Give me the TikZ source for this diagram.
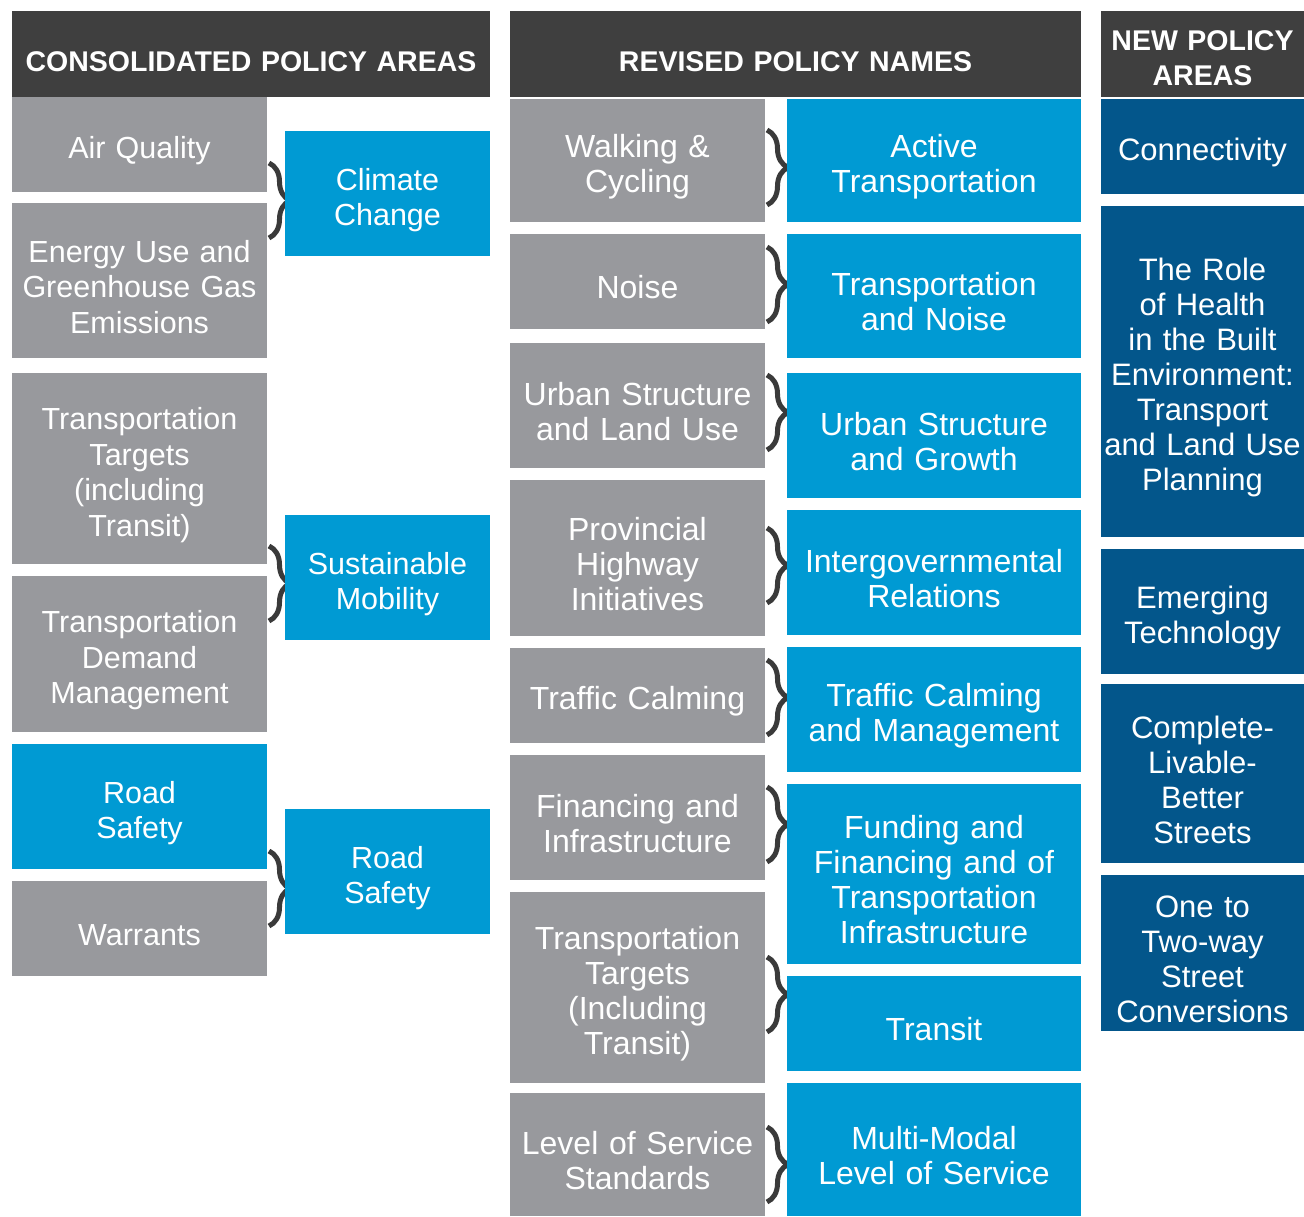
\documentclass[tikz,border=0pt]{standalone}
\usepackage{fontspec}
\setmainfont{Liberation Sans}
\usepackage{tikz}
\usetikzlibrary{decorations.pathreplacing}
\definecolor{headgrey}{RGB}{63,63,63}
\definecolor{oldgrey}{RGB}{152,153,157}
\definecolor{newblue}{RGB}{0,154,211}
\definecolor{navyblue}{RGB}{3,86,139}
\definecolor{bracegrey}{RGB}{58,58,58}
\pgfdeclarelayer{nodelayer}
\pgfdeclarelayer{edgelayer}
\pgfsetlayers{edgelayer,nodelayer,main}
\tikzstyle{none}=[inner sep=0pt]
\tikzset{cell/.style={inner sep=0pt, align=center, text=white, anchor=center, text height=35pt}}
\tikzset{head/.style={cell, fill=headgrey, minimum height=86pt,
font=\bfseries\fontsize{28.5}{35}\selectfont}}
\tikzset{grey/.style={cell, fill=oldgrey, text width=255pt, minimum height=#1,
font=\fontsize{30.5}{35.5}\selectfont}}
\tikzset{greym/.style={grey=#1, font=\fontsize{32}{35}\selectfont}}
\tikzset{bluel/.style={cell, fill=newblue, text width=205pt, minimum height=#1,
font=\fontsize{30.5}{35.5}\selectfont}}
\tikzset{bluem/.style={cell, fill=newblue, text width=294pt, minimum height=#1,
font=\fontsize{32}{35}\selectfont}}
\tikzset{navy/.style={cell, fill=navyblue, text width=203pt, minimum height=#1,
font=\fontsize{31}{35}\selectfont}}
\tikzset{curly/.style={draw=bracegrey, line width=5pt, decorate,
decoration={brace, amplitude=21pt}}}

\begin{document}
\begin{tikzpicture}[x=1pt, y=-1pt]
			\useasboundingbox (0, 0) rectangle (1304, 1216);
			\begin{pgfonlayer}{nodelayer}
				% consolidated policy areas
				\node [head, text width=478pt] (0) at (251, 54) {CONSOLIDATED POLICY AREAS};
				\node [grey=95pt] (1) at (139.5, 144.5) {Air Quality};
				\node [grey=155pt] (2) at (139.5, 280.5) {Energy Use and\\Greenhouse Gas\\Emissions};
				\node [grey=191pt] (3) at (139.5, 468.5) {Transportation\\Targets\\(including\\Transit)};
				\node [grey=156pt] (4) at (139.5, 654) {Transportation\\Demand\\Management};
				\node [grey=125pt, fill=newblue] (5) at (139.5, 806.5) {Road\\Safety};
				\node [grey=95pt] (6) at (139.5, 928.5) {Warrants};
				\node [bluel=125pt] (7) at (387.5, 193.5) {Climate\\Change};
				\node [bluel=125pt] (8) at (387.5, 577.5) {Sustainable\\Mobility};
				\node [bluel=125pt] (9) at (387.5, 871.5) {Road\\Safety};
				% revised policy names
				\node [head, text width=571pt] (10) at (795.5, 54) {REVISED POLICY NAMES};
				\node [greym=123pt] (11) at (637.5, 160.5) {Walking \&\\Cycling};
				\node [greym=95pt] (12) at (637.5, 281.5) {Noise};
				\node [greym=125pt] (13) at (637.5, 405.5) {Urban Structure\\and Land Use};
				\node [greym=156pt] (14) at (637.5, 558) {Provincial\\Highway\\Initiatives};
				\node [greym=95pt] (15) at (637.5, 695.5) {Traffic Calming};
				\node [greym=125pt] (16) at (637.5, 817.5) {Financing and\\Infrastructure};
				\node [greym=191pt] (17) at (637.5, 987.5) {Transportation\\Targets\\(Including\\Transit)};
				\node [greym=123pt] (18) at (637.5, 1154.5) {Level of Service\\Standards};
				\node [bluem=123pt] (19) at (934, 160.5) {Active\\Transportation};
				\node [bluem=124pt] (20) at (934, 296) {Transportation\\and Noise};
				\node [bluem=125pt] (21) at (934, 435.5) {Urban Structure\\and Growth};
				\node [bluem=125pt] (22) at (934, 572.5) {Intergovernmental\\Relations};
				\node [bluem=125pt] (23) at (934, 709.5) {Traffic Calming\\and Management};
				\node [bluem=180pt] (24) at (934, 874) {Funding and\\Financing and of\\Transportation\\Infrastructure};
				\node [bluem=95pt] (25) at (934, 1023.5) {Transit};
				\node [bluem=133pt] (26) at (934, 1149.5) {Multi-Modal\\Level of Service};
				% new policy areas
				\node [head, text width=203pt, text height=28pt] (27) at (1202.5, 54) {NEW POLICY\\AREAS};
				\node [navy=95pt] (28) at (1202.5, 146.5) {Connectivity};
				\node [navy=331pt] (29) at (1202.5, 371.5) {The Role\\of Health\\in the Built\\Environment:\\Transport\\and Land Use\\Planning};
				\node [navy=125pt] (30) at (1202.5, 611.5) {Emerging\\Technology};
				\node [navy=179pt] (31) at (1202.5, 773.5) {Complete-\\Livable-\\Better\\Streets};
				\node [navy=156pt] (32) at (1202.5, 953) {One to\\Two-way\\Street\\Conversions};
				% brace ends
				\node [style=none] (40) at (269, 163) {};
				\node [style=none] (41) at (269, 238) {};
				\node [style=none] (42) at (269, 546) {};
				\node [style=none] (43) at (269, 621) {};
				\node [style=none] (44) at (269, 851) {};
				\node [style=none] (45) at (269, 926) {};
				\node [style=none] (46) at (767, 130) {};
				\node [style=none] (47) at (767, 205) {};
				\node [style=none] (48) at (767, 247) {};
				\node [style=none] (49) at (767, 322) {};
				\node [style=none] (50) at (767, 375) {};
				\node [style=none] (51) at (767, 450) {};
				\node [style=none] (52) at (767, 528) {};
				\node [style=none] (53) at (767, 603) {};
				\node [style=none] (54) at (767, 660) {};
				\node [style=none] (55) at (767, 735) {};
				\node [style=none] (56) at (767, 787) {};
				\node [style=none] (57) at (767, 862) {};
				\node [style=none] (58) at (767, 957) {};
				\node [style=none] (59) at (767, 1032) {};
				\node [style=none] (60) at (767, 1127) {};
				\node [style=none] (61) at (767, 1202) {};
			\end{pgfonlayer}
			\begin{pgfonlayer}{edgelayer}
				\draw [curly] (40.center) to (41.center);
				\draw [curly] (42.center) to (43.center);
				\draw [curly] (44.center) to (45.center);
				\draw [curly] (46.center) to (47.center);
				\draw [curly] (48.center) to (49.center);
				\draw [curly] (50.center) to (51.center);
				\draw [curly] (52.center) to (53.center);
				\draw [curly] (54.center) to (55.center);
				\draw [curly] (56.center) to (57.center);
				\draw [curly] (58.center) to (59.center);
				\draw [curly] (60.center) to (61.center);
			\end{pgfonlayer}
\end{tikzpicture}
\end{document}
